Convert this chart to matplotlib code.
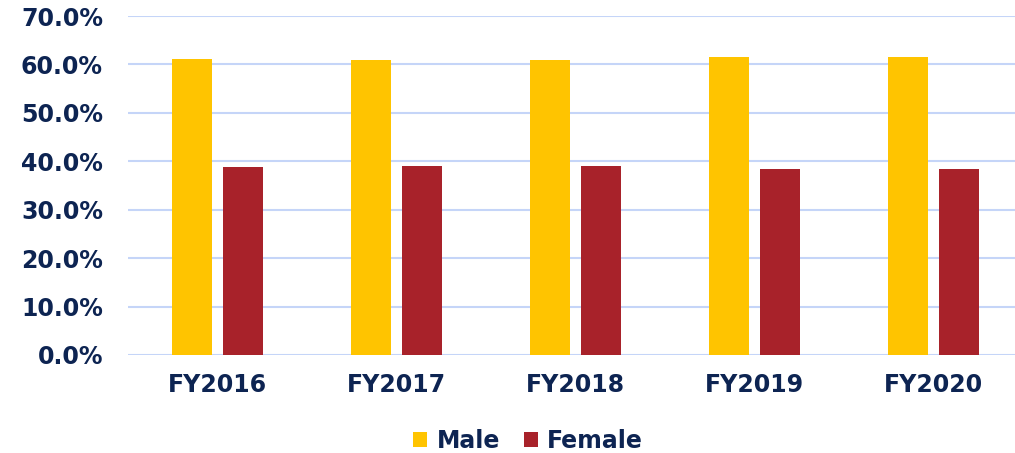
import matplotlib.pyplot as plt
import numpy as np
from matplotlib.ticker import PercentFormatter

# Data
years = ['FY2016', 'FY2017', 'FY2018', 'FY2019', 'FY2020']
male = [61.2, 61.0, 61.0, 61.6, 61.6]
female = [38.8, 39.0, 39.0, 38.4, 38.4]

navy = '#0D2452'
plt.rcParams['font.family'] = ['Verdana', 'DejaVu Sans']
plt.rcParams['font.weight'] = 'bold'

fig = plt.figure(figsize=(10.15, 4.53), dpi=100)
# plot area runs a little past the right edge, as in the reference
ax = fig.add_axes([128 / 1015, 1 - 355 / 453, 895 / 1015, (355 - 16) / 453])

x = np.arange(len(years))
w = 0.225
gap = 0.056
ax.bar(x - (w + gap) / 2, male, w, color='#FFC400', label='Male', zorder=3)
ax.bar(x + (w + gap) / 2, female, w, color='#A8222A', label='Female', zorder=3)

ax.set_xlim(-0.5, len(years) - 0.5)
ax.set_ylim(0, 70)
ax.set_yticks(np.arange(0, 71, 10))
ax.yaxis.set_major_formatter(PercentFormatter(decimals=1))
ax.set_xticks(x)
ax.set_xticklabels(years)
ax.grid(axis='y', color='#C5D5F8', linewidth=1.5, zorder=0)
for s in ax.spines.values():
    s.set_visible(False)
ax.tick_params(length=0, labelsize=17, labelcolor=navy)
ax.tick_params(axis='y', pad=18)
ax.tick_params(axis='x', pad=13)

ax.legend(loc='center', bbox_to_anchor=(0.447, -0.253),
          ncol=2, frameon=False, fontsize=17, labelcolor=navy,
          handlelength=0.6, handleheight=0.6, handletextpad=0.4, columnspacing=1.0)

fig.savefig('out.png', dpi=100)
